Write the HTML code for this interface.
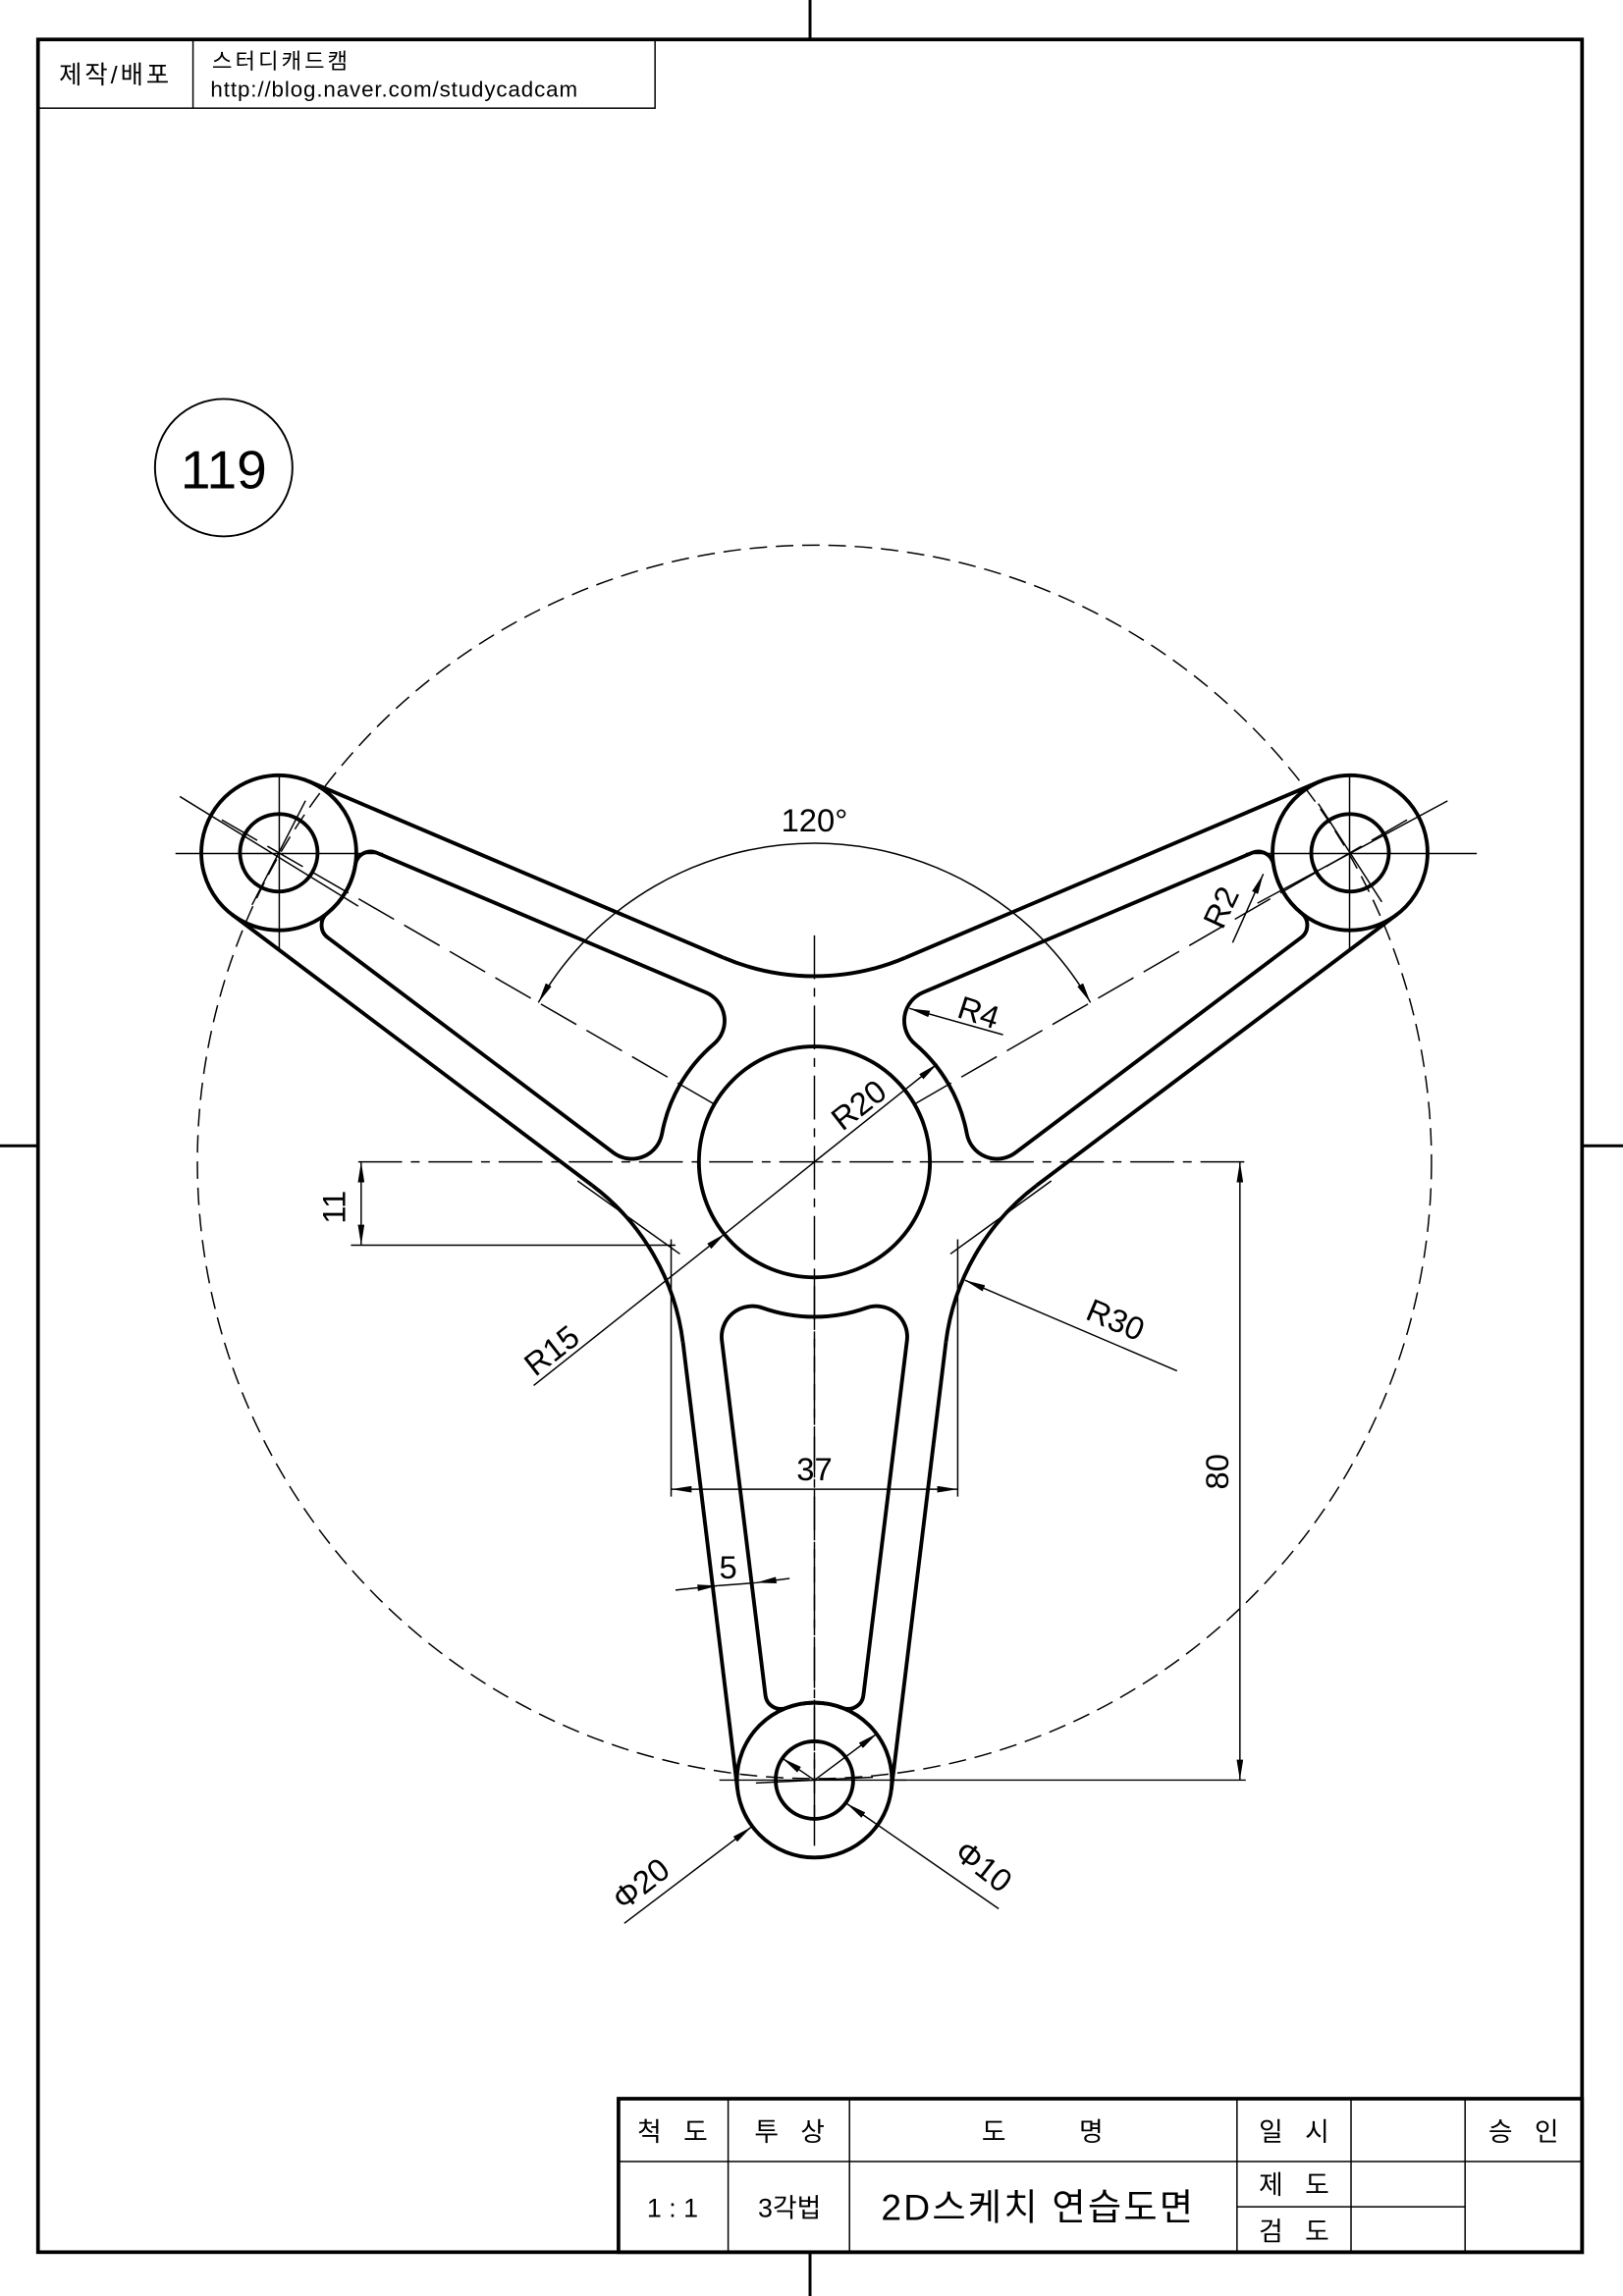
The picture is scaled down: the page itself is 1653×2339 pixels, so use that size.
<!DOCTYPE html>
<html><head><meta charset="utf-8"><style>html,body{margin:0;padding:0;background:#fff}svg{display:block}</style></head>
<body>
<svg width="1653" height="2339" viewBox="0 0 1110 1571" preserveAspectRatio="none" xmlns="http://www.w3.org/2000/svg" font-family="'Liberation Sans','Noto Sans CJK KR',sans-serif">
<defs>
<marker id="ar" viewBox="0 0 14 4.5" refX="14" refY="2.25" markerWidth="14" markerHeight="4.5" markerUnits="userSpaceOnUse" orient="auto-start-reverse"><path d="M0,0 L14,2.25 L0,4.5 z" fill="#000"/></marker>
</defs>
<rect width="1110" height="1571" fill="#fff"/>
<rect x="26" y="27" width="1056" height="1514" fill="none" stroke="#000" stroke-width="2.5"/>
<g stroke="#000" stroke-width="2">
<line x1="554" y1="0" x2="554" y2="27"/><line x1="554" y1="1541" x2="554" y2="1571"/>
<line x1="0" y1="784" x2="26" y2="784"/><line x1="1082" y1="784" x2="1110" y2="784"/>
</g>
<g stroke="#000" stroke-width="1" fill="none"><rect x="26" y="27" width="422" height="47"/><line x1="132" y1="27" x2="132" y2="74"/></g>
<text x="79" y="57" font-size="17" text-anchor="middle" letter-spacing="2">제작/배포</text>
<text x="145" y="47" font-size="15" letter-spacing="2">스터디캐드캠</text>
<text x="144" y="66" font-size="15" letter-spacing="0.6">http://blog.naver.com/studycadcam</text>
<circle cx="153" cy="320" r="47" fill="none" stroke="#000" stroke-width="1.3"/>
<text x="153" y="334" font-size="37" text-anchor="middle">119</text>

<circle cx="557" cy="795" r="422" fill="none" stroke="#000" stroke-width="1" stroke-dasharray="12,6"/>
<g stroke="#000" stroke-width="1" fill="none">
<line x1="245" y1="795" x2="852" y2="795" stroke-dasharray="30,6,6,6"/>
<line x1="557" y1="640" x2="557" y2="1245" stroke-dasharray="30,6,6,6"/>
</g>

<g transform="translate(557,795)">
<g id="arm" fill="none" stroke="#000">
<g stroke-width="2.6">
<line x1="-89.9" y1="123.6" x2="-52.6" y2="429.5"/>
<line x1="89.9" y1="123.6" x2="52.6" y2="429.5"/>
<path d="M89.9 123.6 A159 159 0 0 1 152 16.1"/>
<circle cx="0" cy="423" r="53"/>
<circle cx="0" cy="423" r="26.5"/>
<path d="M-35.5 99.9 A106 106 0 0 0 35.5 99.9 A21 21 0 0 1 63.3 122.3 L33.5 365 A10.6 10.6 0 0 1 19.2 373.6 A53 53 0 0 0 -19.2 373.6 A10.6 10.6 0 0 1 -33.5 365 L-63.3 122.3 A21 21 0 0 1 -35.5 99.9 Z"/>
</g>
<g stroke-width="1">
<line x1="0" y1="80" x2="0" y2="470" stroke-dasharray="28,8"/>
<line x1="-40" y1="425" x2="40" y2="421" />
</g>
</g>
<use href="#arm" transform="rotate(120)"/>
<use href="#arm" transform="rotate(240)"/>
<circle cx="0" cy="0" r="79" fill="none" stroke="#000" stroke-width="2.6"/>
</g>

<g stroke="#000" stroke-width="1">
<line x1="120" y1="584" x2="262" y2="584"/><line x1="191" y1="530" x2="191" y2="650"/>
<line x1="852" y1="584" x2="1010" y2="584"/><line x1="923" y1="530" x2="923" y2="650"/>
<line x1="492" y1="1218" x2="620" y2="1218"/>
<line x1="123" y1="545" x2="245" y2="620"/><line x1="860" y1="618" x2="990" y2="548"/>
</g>

<g stroke="#000" stroke-width="1" fill="none">
<line x1="240" y1="852" x2="462" y2="852"/>
<line x1="247" y1="795" x2="247" y2="852" marker-start="url(#ar)" marker-end="url(#ar)"/>
<line x1="459" y1="848" x2="459" y2="1024"/><line x1="655" y1="848" x2="655" y2="1024"/>
<line x1="459" y1="1019" x2="655" y2="1019" marker-start="url(#ar)" marker-end="url(#ar)"/>
<line x1="395" y1="808" x2="465" y2="858"/><line x1="719" y1="808" x2="650" y2="858"/>
<line x1="612" y1="1218" x2="852" y2="1218"/>
<line x1="848" y1="795" x2="848" y2="1218" marker-start="url(#ar)" marker-end="url(#ar)"/>
<line x1="462" y1="1088" x2="491" y2="1085" marker-end="url(#ar)"/>
<line x1="540" y1="1080" x2="517" y2="1083" marker-end="url(#ar)"/>
<line x1="491" y1="1085" x2="517" y2="1083"/>
<line x1="805" y1="938" x2="660" y2="876" marker-end="url(#ar)"/>
<line x1="365" y1="948" x2="496" y2="844" marker-end="url(#ar)"/>
<line x1="496" y1="844" x2="557" y2="795"/>
<line x1="557" y1="795" x2="641" y2="728" marker-end="url(#ar)"/>
<line x1="686" y1="708" x2="622" y2="690" marker-end="url(#ar)"/>
<line x1="843" y1="645" x2="864" y2="598" marker-end="url(#ar)"/>
<path d="M368.2 686 A218 218 0 0 1 745.8 686" marker-start="url(#ar)" marker-end="url(#ar)"/>
<line x1="427" y1="1316" x2="514" y2="1250" marker-end="url(#ar)"/>
<line x1="557" y1="1218" x2="600" y2="1186" marker-end="url(#ar)"/>
<line x1="683" y1="1306" x2="579" y2="1234" marker-end="url(#ar)"/>
<line x1="557" y1="1218" x2="535" y2="1203" marker-end="url(#ar)"/>
</g>
<g font-size="22">
<text x="236" y="826" text-anchor="middle" transform="rotate(-90 236 826)">11</text>
<text x="557" y="1013" text-anchor="middle">37</text>
<text x="840" y="1007" text-anchor="middle" transform="rotate(-90 840 1007)">80</text>
<text x="498" y="1080" text-anchor="middle">5</text>
<text x="760" y="910" text-anchor="middle" transform="rotate(23 760 910)">R30</text>
<text x="382" y="930" text-anchor="middle" transform="rotate(-38 382 930)">R15</text>
<text x="592" y="762" text-anchor="middle" transform="rotate(-38 592 762)">R20</text>
<text x="667" y="700" text-anchor="middle" transform="rotate(18 667 700)">R4</text>
<text x="842" y="624" text-anchor="middle" transform="rotate(-65 842 624)">R2</text>
<text x="557" y="569" text-anchor="middle">120°</text>
<text x="443" y="1295" text-anchor="middle" transform="rotate(-38 443 1295)">Φ20</text>
<text x="668" y="1283" text-anchor="middle" transform="rotate(38 668 1283)">Φ10</text>
</g>

<g stroke="#000" fill="none">
<rect x="423" y="1436" width="659" height="105" stroke-width="2.5"/>
<g stroke-width="1">
<line x1="423" y1="1479" x2="1082" y2="1479"/>
<line x1="498" y1="1436" x2="498" y2="1541"/>
<line x1="581" y1="1436" x2="581" y2="1541"/>
<line x1="846" y1="1436" x2="846" y2="1541"/>
<line x1="924" y1="1436" x2="924" y2="1541"/>
<line x1="1002" y1="1436" x2="1002" y2="1541"/>
<line x1="846" y1="1510" x2="1002" y2="1510"/>
</g>
</g>
<g font-size="18" text-anchor="middle">
<text x="460" y="1465" xml:space="preserve">척   도</text>
<text x="540" y="1465" xml:space="preserve">투   상</text>
<text x="713" y="1465" xml:space="preserve">도          명</text>
<text x="885" y="1465" xml:space="preserve">일   시</text>
<text x="1042" y="1465" xml:space="preserve">승   인</text>
<text x="460" y="1517">1 : 1</text>
<text x="540" y="1517">3각법</text>
<text x="885" y="1501" xml:space="preserve">제   도</text>
<text x="885" y="1533" xml:space="preserve">검   도</text>
<text x="710" y="1519" font-size="25" letter-spacing="1.5">2D스케치 연습도면</text>
</g>
</svg>
</body></html>
